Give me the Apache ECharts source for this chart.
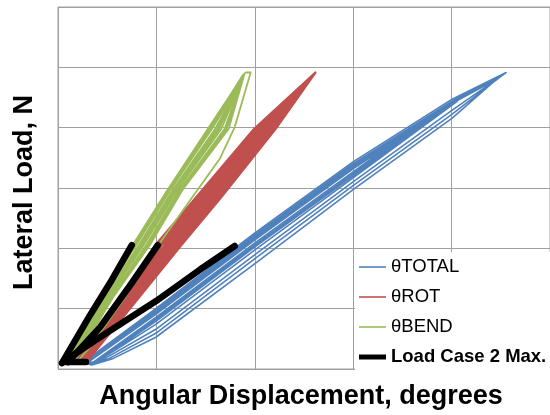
<!DOCTYPE html>
<html>
<head>
<meta charset="utf-8">
<script src="https://cdn.jsdelivr.net/npm/echarts@6/dist/echarts.min.js"></script>
<style>
html,body{margin:0;padding:0;background:#fff;}
#chart{width:550px;height:415px;}
</style>
</head>
<body>
<div id="chart"></div>
<script>
// Axis ranges (no tick labels are shown in the reference)
var xRange = [0, 2.5, 0.5];     // degrees: min, max, interval
var yRange = [0, 3000, 500];    // N: min, max, interval

var seriesNames = ['θTOTAL', 'θROT', 'θBEND', 'Load Case 2 Max.'];

// θTOTAL hysteresis loops [deg, N]
var totalPath = [
  [0.122,49],[0.497,501],[0.999,1126],[1.501,1718],[2.003,2236],[2.277,2457],
  [2.216,2384],[2.003,2079],[1.501,1488],[0.999,871],[0.497,263],[0.274,82],[0.172,33],
  [0.132,49],[0.497,493],[0.999,1110],[1.501,1701],[2.003,2219],[2.257,2433],
  [2.003,2112],[1.501,1521],[0.999,912],[0.497,296],[0.254,82],[0.162,41],
  [0.142,49],[0.497,477],[0.999,1093],[1.501,1685],[2.003,2203],[2.236,2408],
  [2.003,2145],[1.501,1553],[0.999,945],[0.497,329],[0.233,82],[0.152,41],
  [0.137,49],[0.497,468],[0.999,1085],[1.501,1677],[2.028,2219],
  [1.501,1586],[0.999,986],[0.497,370],[0.203,66],
  [0.147,49],[0.497,452],[0.999,1068],[1.501,1660],[1.988,2186],
  [1.501,1603],[0.999,1011],[0.497,395],[0.193,58],
  [0.127,49],[0.497,485],[0.999,1101],[1.501,1693],[1.937,2137],
  [1.501,1619],[0.999,1027],[0.497,411],[0.183,49],
  [0.142,49],[0.497,460],[0.999,1077],[1.501,1668],[1.886,2088],
  [1.501,1636],[0.999,1044],[0.497,427],[0.172,49]
];

// θROT hysteresis loops [deg, N]
var rotPath = [
  [0.088,66],[0.327,592],[0.495,1027],[0.697,1414],[0.996,1989],[1.308,2457],
  [1.105,1989],[0.825,1414],[0.627,1027],[0.411,592],[0.149,66],
  [0.091,66],[0.332,592],[0.503,1027],[0.706,1414],[1.003,1989],[1.298,2441],
  [1.101,1989],[0.820,1414],[0.623,1027],[0.409,592],[0.147,66],
  [0.096,66],[0.338,592],[0.513,1027],[0.715,1414],[1.012,1989],[1.288,2425],
  [1.093,1989],[0.811,1414],[0.613,1027],[0.402,592],[0.142,66],
  [0.103,66],[0.347,592],[0.527,1027],[0.729,1414],[1.023,1989],[1.268,2392],
  [1.082,1989],[0.798,1414],[0.598,1027],[0.393,592],[0.136,66],
  [0.110,66],[0.356,592],[0.542,1027],[0.743,1414],[1.034,1989],[1.247,2359],
  [1.070,1989],[0.784,1414],[0.584,1027],[0.384,592],[0.129,66],
  [0.116,66],[0.366,592],[0.556,1027],[0.757,1414],[1.047,1989],[1.217,2301],
  [1.058,1989],[0.770,1414],[0.570,1027],[0.375,592],[0.123,66]
];

// θBEND hysteresis loops [deg, N]
var bendPath = [
  [0.051,66],[0.213,592],[0.380,1027],[0.558,1488],[0.761,1989],[0.948,2449],
  [0.867,1989],[0.634,1488],[0.467,1027],[0.279,592],[0.086,66],
  [0.054,66],[0.220,592],[0.389,1027],[0.565,1488],[0.771,1989],[0.943,2425],
  [0.856,1989],[0.626,1488],[0.458,1027],[0.272,592],[0.083,66],
  [0.058,66],[0.226,592],[0.398,1027],[0.573,1488],[0.782,1989],[0.938,2400],
  [0.846,1989],[0.619,1488],[0.449,1027],[0.266,592],[0.079,66],
  [0.063,66],[0.236,592],[0.411,1027],[0.585,1488],[0.798,1989],[0.923,2351],
  [0.830,1989],[0.608,1488],[0.436,1027],[0.256,592],[0.074,66],
  [0.067,66],[0.243,592],[0.419,1027],[0.592,1488],[0.809,1989],[0.903,2301],
  [0.819,1989],[0.600,1488],[0.428,1027],[0.249,592],[0.070,66],
  [0.053,66],[0.217,592],[0.385,1027],[0.562,1488],[0.766,1989],[0.938,2433],
  [0.953,2457],[0.979,2457],[0.898,2005],[0.822,1742],[0.685,1430],[0.517,1044],
  [0.340,592],[0.162,181],[0.101,66]
];

// Load Case 2 Max. curves [deg, N]
var caseBend = [[0.020,49],[0.162,444],[0.274,740],[0.375,1027]];
var caseRot = [[0.051,58],[0.213,345],[0.365,690],[0.507,1027]];
var caseTotal = [[0.142,58],[0.025,58],[0.213,263],[0.502,567],[0.720,822],[0.898,1019]];

var colors = ['#4F81BD', '#C0504D', '#9BBB59', '#000000'];
var FONT = "'Liberation Sans', Arial, sans-serif";
var thinIcon = 'path://M0,0H27V1.6H0Z';
var thickIcon = 'path://M0,0H27V5H0Z';

function lineSeries(name, data, color, width, z) {
  return {
    name: name, type: 'line', data: data,
    symbol: 'none', showSymbol: false, smooth: false,
    silent: true, animation: false, z: z,
    lineStyle: { color: color, width: width, cap: 'round', join: 'round' },
    itemStyle: { color: color }
  };
}

var chart = echarts.init(document.getElementById('chart'), null, { renderer: 'canvas' });
chart.setOption({
  animation: false,
  backgroundColor: '#ffffff',
  grid: {
    left: 58, top: 7, width: 493, height: 365,
    show: true, borderColor: '#a0a0a0', borderWidth: 1
  },
  xAxis: {
    type: 'value', min: xRange[0], max: xRange[1], interval: xRange[2],
    axisLine: { show: false }, axisTick: { show: false }, axisLabel: { show: false },
    splitLine: { show: true, lineStyle: { color: '#a0a0a0', width: 1 } },
    name: 'Angular Displacement, degrees', nameLocation: 'middle', nameGap: 14,
    nameTextStyle: { fontFamily: FONT, fontSize: 27, fontWeight: 'bold', color: '#000', padding: [0, 6, 0, 0] }
  },
  yAxis: {
    type: 'value', min: yRange[0], max: yRange[1], interval: yRange[2],
    axisLine: { show: false }, axisTick: { show: false }, axisLabel: { show: false },
    splitLine: { show: true, lineStyle: { color: '#a0a0a0', width: 1 } },
    name: 'Lateral Load, N', nameLocation: 'middle', nameGap: 20,
    nameTextStyle: { fontFamily: FONT, fontSize: 27, fontWeight: 'bold', color: '#000', padding: [0, 9, 0, 0] }
  },
  legend: {
    orient: 'vertical', left: 355, top: 252,
    padding: [5, 12, 4, 4],
    backgroundColor: '#ffffff',
    itemWidth: 27, itemHeight: 14, itemGap: 10,
    symbolKeepAspect: true,
    selectedMode: false,
    textStyle: { fontFamily: FONT, fontSize: 18.5, lineHeight: 20, color: '#000' },
    data: [
      { name: seriesNames[0], icon: thinIcon },
      { name: seriesNames[1], icon: thinIcon },
      { name: seriesNames[2], icon: thinIcon },
      { name: seriesNames[3], icon: thickIcon, textStyle: { fontWeight: 'bold' } }
    ]
  },
  series: [
    lineSeries(seriesNames[0], totalPath, colors[0], 1.6, 2),
    lineSeries(seriesNames[1], rotPath, colors[1], 2.3, 3),
    lineSeries(seriesNames[2], bendPath, colors[2], 1.8, 4),
    lineSeries(seriesNames[3], caseBend, colors[3], 6.5, 5),
    lineSeries(seriesNames[3], caseRot, colors[3], 6.5, 5),
    lineSeries(seriesNames[3], caseTotal, colors[3], 6.5, 5)
  ]
});
</script>
</body>
</html>
